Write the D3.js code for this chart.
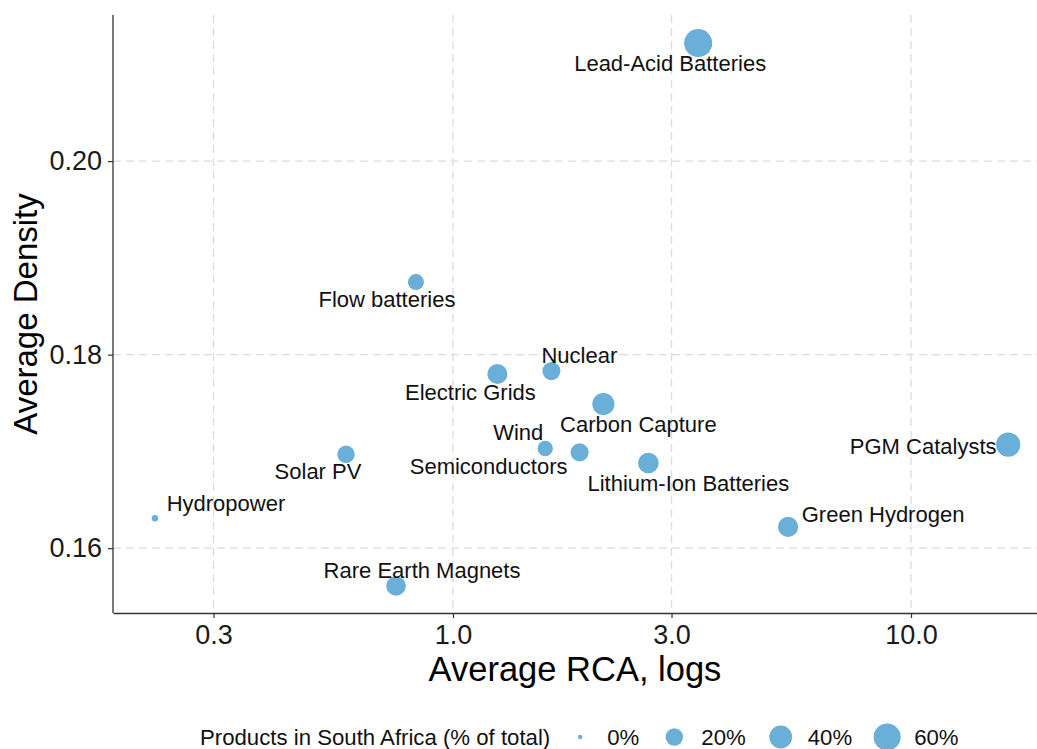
<!DOCTYPE html>
<html>
<head>
<meta charset="utf-8">
<script src="https://cdn.jsdelivr.net/npm/d3@7"></script>
<style>
  body { margin: 0; background: #fff; }
  svg text { font-family: "Liberation Sans", Arial, sans-serif; }
</style>
</head>
<body>
<div id="chart"></div>
<script>
(function(){

   // chart data
   var technologies = ['Lead-Acid Batteries', 'Flow batteries', 'Nuclear', 'Electric Grids',
      'Carbon Capture', 'Wind', 'Semiconductors', 'Lithium-Ion Batteries', 'PGM Catalysts',
      'Green Hydrogen', 'Solar PV', 'Hydropower', 'Rare Earth Magnets'];
   var avgRca = [3.43, 0.83, 1.64, 1.25, 2.13, 1.59, 1.89, 2.67, 16.3, 5.39, 0.584, 0.2235, 0.751];
   var avgDensity = [0.2122, 0.1875, 0.1783, 0.1780, 0.1749, 0.1703, 0.1699, 0.1688, 0.1707,
      0.1622, 0.1697, 0.1631, 0.1561];
   var shareSA = [66, 16, 22, 29, 37, 14, 22, 31, 46, 29, 20, 0.5, 27]; // % of total

   var xTicks = [0.3, 1, 3, 10];
   var xTickLabels = ['0.3', '1.0', '3.0', '10.0'];
   var yTicks = [0.16, 0.18, 0.20];
   var yTickLabels = ['0.16', '0.18', '0.20'];
   var legendBreaks = [0, 20, 40, 60];
   var legendLabels = ['0%', '20%', '40%', '60%'];

   // label nudges (pixels from the point), like ggrepel placed them
   var labelDx = [-28, -29, 28, -27, 35, -27, -91, 40, -85, 95, -28, 71, 26];
   var labelDy = [20, 17, -16, 18, 20, -16, 14, 20, 1, -13, 17, -15, -16];

   var SVG_WIDTH = 1037;
   var SVG_HEIGHT = 749;
   var PLOT_LEFT = 113, PLOT_RIGHT = 1037, PLOT_TOP = 15, PLOT_BOTTOM = 613;
   var POINT_COLOR = '#69afd7';
   var AXIS_COLOR = '#333';
   var LEGEND_Y = 737;

   var svg = d3.select('#chart').append('svg')
      .attr('width', SVG_WIDTH)
      .attr('height', SVG_HEIGHT);

   var x = d3.scaleLog()
      .domain([0.181, 18.84])
      .range([PLOT_LEFT, PLOT_RIGHT]);

   var y = d3.scaleLinear()
      .domain([0.1533, 0.2151])
      .range([PLOT_BOTTOM, PLOT_TOP]);

   var r = d3.scaleSqrt()
      .domain([0, 60])
      .range([2.2, 13.5]);

   // dashed grid
   var grid = svg.append('g');
   grid.selectAll('line.vx')
      .data(xTicks).enter().append('line')
      .attr('x1', function(d){ return x(d); })
      .attr('x2', function(d){ return x(d); })
      .attr('y1', PLOT_TOP).attr('y2', PLOT_BOTTOM);
   grid.selectAll('line.hy')
      .data(yTicks).enter().append('line')
      .attr('x1', PLOT_LEFT).attr('x2', PLOT_RIGHT)
      .attr('y1', function(d){ return y(d); })
      .attr('y2', function(d){ return y(d); });
   grid.selectAll('line')
      .attr('stroke', '#dcdcdc')
      .attr('stroke-width', 1.3)
      .attr('stroke-dasharray', '8,5');

   // axes
   var xAxis = svg.append('g')
      .attr('transform', 'translate(0,' + PLOT_BOTTOM + ')')
      .call(d3.axisBottom(x).tickValues(xTicks)
         .tickFormat(function(d, i){ return xTickLabels[i]; })
         .tickSizeInner(5).tickSizeOuter(0).tickPadding(7));

   var yAxis = svg.append('g')
      .attr('transform', 'translate(' + PLOT_LEFT + ',0)')
      .call(d3.axisLeft(y).tickValues(yTicks)
         .tickFormat(function(d, i){ return yTickLabels[i]; })
         .tickSizeInner(5).tickSizeOuter(0).tickPadding(6));

   [xAxis, yAxis].forEach(function(a){
      a.select('.domain').attr('stroke', AXIS_COLOR).attr('stroke-width', 1.3);
      a.selectAll('.tick line').attr('stroke', AXIS_COLOR).attr('stroke-width', 1.2);
      a.selectAll('.tick text')
         .attr('fill', '#1a1a1a')
         .style('font-size', '27px')
         .style('font-family', '"Liberation Sans", Arial, sans-serif');
   });
   yAxis.select('.domain').attr('d', 'M0,' + PLOT_TOP + 'V' + PLOT_BOTTOM);

   // axis titles
   svg.append('text')
      .attr('x', (PLOT_LEFT + PLOT_RIGHT) / 2)
      .attr('y', 681)
      .attr('text-anchor', 'middle')
      .style('font-size', '34.5px')
      .attr('fill', '#000')
      .text('Average RCA, logs');

   svg.append('text')
      .attr('transform', 'translate(37,' + ((PLOT_TOP + PLOT_BOTTOM) / 2) + ') rotate(-90)')
      .attr('text-anchor', 'middle')
      .style('font-size', '33px')
      .attr('fill', '#000')
      .text('Average Density');

   // points
   var idx = d3.range(technologies.length);
   svg.append('g').selectAll('circle')
      .data(idx).enter().append('circle')
      .attr('cx', function(i){ return x(avgRca[i]); })
      .attr('cy', function(i){ return y(avgDensity[i]); })
      .attr('r', function(i){ return r(shareSA[i]); })
      .attr('fill', POINT_COLOR);

   // labels
   svg.append('g').selectAll('text')
      .data(idx).enter().append('text')
      .attr('x', function(i){ return x(avgRca[i]) + labelDx[i]; })
      .attr('y', function(i){ return y(avgDensity[i]) + labelDy[i]; })
      .attr('dy', '0.36em')
      .attr('text-anchor', 'middle')
      .style('font-size', '22px')
      .attr('fill', '#111')
      .text(function(i){ return technologies[i]; });

   // legend
   var legend = svg.append('g').attr('transform', 'translate(0,' + LEGEND_Y + ')');
   var title = legend.append('text')
      .attr('x', 200)
      .attr('dy', '0.36em')
      .style('font-size', '22.2px')
      .attr('fill', '#111')
      .text('Products in South Africa (% of total)');

   var cursor = 200 + title.node().getComputedTextLength() + 30;
   legendBreaks.forEach(function(b, i){
      legend.append('circle')
         .attr('cx', cursor)
         .attr('cy', 0)
         .attr('r', r(b))
         .attr('fill', POINT_COLOR);
      var t = legend.append('text')
         .attr('x', cursor + 27)
         .attr('dy', '0.36em')
         .style('font-size', '22.2px')
         .attr('fill', '#111')
         .text(legendLabels[i]);
      cursor = cursor + 27 + t.node().getComputedTextLength() + 35;
   });

})();
</script>
</body>
</html>
